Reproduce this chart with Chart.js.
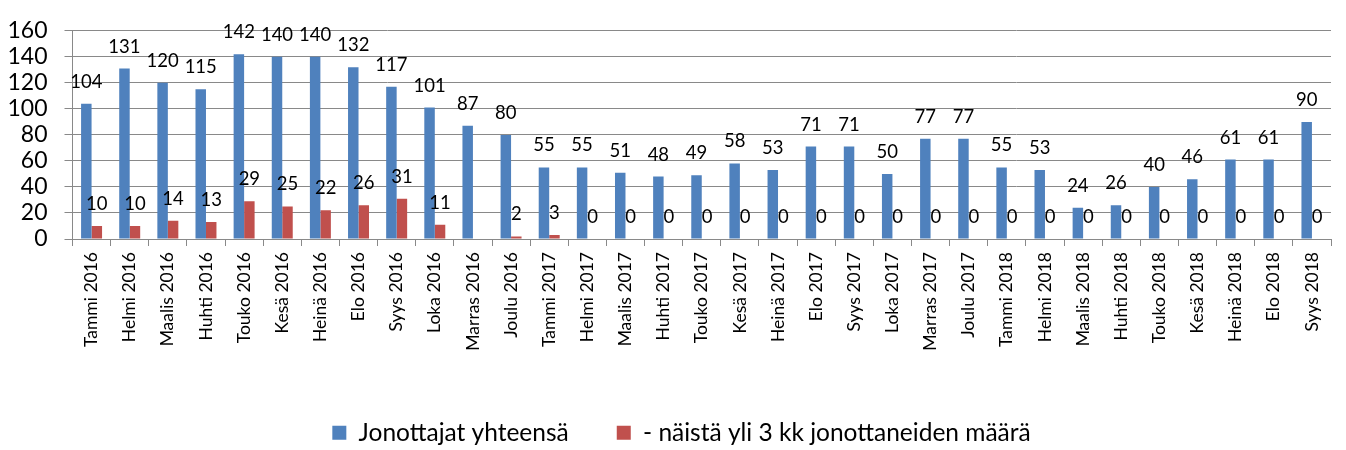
<!DOCTYPE html>
<html>
<head>
<meta charset="utf-8">
<script src="https://cdn.jsdelivr.net/npm/chart.js@4"></script>
<style>
  html, body { margin: 0; padding: 0; background: #fff; }
  #wrap { width: 1346px; height: 450px; }
</style>
</head>
<body>
<div id="wrap"><canvas id="c"></canvas></div>
<script>
// Monthly queue figures, January 2016 – September 2018
const months = [
  'Tammi 2016', 'Helmi 2016', 'Maalis 2016', 'Huhti 2016', 'Touko 2016', 'Kesä 2016',
  'Heinä 2016', 'Elo 2016', 'Syys 2016', 'Loka 2016', 'Marras 2016', 'Joulu 2016',
  'Tammi 2017', 'Helmi 2017', 'Maalis 2017', 'Huhti 2017', 'Touko 2017', 'Kesä 2017',
  'Heinä 2017', 'Elo 2017', 'Syys 2017', 'Loka 2017', 'Marras 2017', 'Joulu 2017',
  'Tammi 2018', 'Helmi 2018', 'Maalis 2018', 'Huhti 2018', 'Touko 2018', 'Kesä 2018',
  'Heinä 2018', 'Elo 2018', 'Syys 2018'
];

const totals = [
  104, 131, 120, 115, 142, 140, 140, 132, 117, 101, 87, 80,
  55, 55, 51, 48, 49, 58, 53, 71, 71, 50, 77, 77,
  55, 53, 24, 26, 40, 46, 61, 61, 90
];

const over3Months = [
  10, 10, 14, 13, 29, 25, 22, 26, 31, 11, null, 2,
  3, 0, 0, 0, 0, 0, 0, 0, 0, 0, 0, 0,
  0, 0, 0, 0, 0, 0, 0, 0, 0
];

const yTicks = [0, 20, 40, 60, 80, 100, 120, 140, 160];

const GRID = '#898989';
const FONT = 'Lato';

// Writes each bar's value above its top
const valueLabels = {
  id: 'valueLabels',
  afterDatasetsDraw(chart) {
    const ctx = chart.ctx;
    ctx.save();
    ctx.font = '18.5px ' + FONT;
    ctx.fillStyle = '#000';
    ctx.textAlign = 'center';
    ctx.textBaseline = 'middle';
    chart.data.datasets.forEach((ds, i) => {
      const meta = chart.getDatasetMeta(i);
      meta.data.forEach((bar, j) => {
        const v = ds.data[j];
        if (v === null || v === undefined) return;
        ctx.fillText(String(v), bar.x, bar.y - 22);
      });
    });
    ctx.restore();
  }
};

// Nudges the legend row a little to the right of centre
const legendShift = {
  id: 'legendShift',
  afterLayout(chart) {
    if (chart.legend) {
      chart.legend.left += 16;
      chart.legend.right += 16;
    }
  }
};

new Chart(document.getElementById('c'), {
  type: 'bar',
  data: {
    labels: months,
    datasets: [
      {
        label: 'Jonottajat yhteensä',
        data: totals,
        backgroundColor: '#4F81BD',
        categoryPercentage: 0.55,
        barPercentage: 1.0
      },
      {
        label: '- näistä yli 3 kk jonottaneiden määrä',
        data: over3Months,
        backgroundColor: '#C0504D',
        categoryPercentage: 0.55,
        barPercentage: 1.0
      }
    ]
  },
  options: {
    responsive: true,
    maintainAspectRatio: false,
    animation: false,
    devicePixelRatio: 1,
    layout: { padding: { top: 16, right: 15, bottom: 0, left: 0 } },
    plugins: {
      tooltip: { enabled: false },
      legend: {
        position: 'bottom',
        maxHeight: 77.5,
        labels: {
          font: { family: FONT, size: 24.5 },
          color: '#000',
          boxWidth: 14,
          boxHeight: 14,
          padding: 48
        }
      }
    },
    scales: {
      x: {
        offset: true,
        grid: {
          offset: true,
          drawOnChartArea: false,
          drawTicks: true,
          tickLength: 7,
          color: GRID
        },
        border: { display: true, color: GRID },
        ticks: {
          autoSkip: false,
          maxRotation: 90,
          minRotation: 90,
          padding: 6,
          color: '#000',
          font: { family: FONT, size: 17.5 }
        },
        afterFit(scale) { scale.height = 133.5; }
      },
      y: {
        min: 0,
        max: 160,
        afterBuildTicks(scale) { scale.ticks = yTicks.map(v => ({ value: v })); },
        grid: { color: GRID, tickLength: 8 },
        border: { display: true, color: GRID },
        ticks: {
          autoSkip: false,
          padding: 17,
          color: '#000',
          font: { family: FONT, size: 23 }
        },
        afterFit(scale) { scale.width = 72.5; }
      }
    }
  },
  plugins: [valueLabels, legendShift]
});
</script>
</body>
</html>
